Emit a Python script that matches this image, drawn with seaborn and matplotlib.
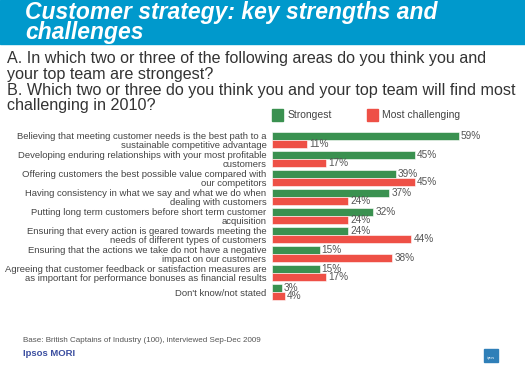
import matplotlib
matplotlib.use("Agg")
import matplotlib.pyplot as plt
import matplotlib.patches as mpatches
import seaborn as sns
import pandas as pd

# 数据
categories = [
    "Believing that meeting customer needs is the best path to a\nsustainable competitive advantage",
    "Developing enduring relationships with your most profitable\ncustomers",
    "Offering customers the best possible value compared with\nour competitors",
    "Having consistency in what we say and what we do when\ndealing with customers",
    "Putting long term customers before short term customer\nacquisition",
    "Ensuring that every action is geared towards meeting the\nneeds of different types of customers",
    "Ensuring that the actions we take do not have a negative\nimpact on our customers",
    "Agreeing that customer feedback or satisfaction measures are\nas important for performance bonuses as financial results",
    "Don't know/not stated",
]
strongest = [59, 45, 39, 37, 32, 24, 15, 15, 3]
challenging = [11, 17, 45, 24, 24, 44, 38, 17, 4]
series_names = ["Strongest", "Most challenging"]

df = pd.DataFrame({
    "category": categories * 2,
    "value": strongest + challenging,
    "series": [series_names[0]] * len(categories) + [series_names[1]] * len(categories),
})

GREEN = "#3a9150"
RED = "#ee5046"
TEXT = "#444444"

sns.set_theme(style="white")
plt.rcParams["font.family"] = ["Liberation Sans", "DejaVu Sans"]

fig = plt.figure(figsize=(5.25, 3.86), dpi=100)
fig.patch.set_facecolor("white")

# 标题横幅
fig.patches.append(mpatches.Rectangle((0, 1 - 44 / 386), 1, 44 / 386,
                                      transform=fig.transFigure, color="#0099cc", zorder=0))
fig.text(25 / 525, 1 - 12 / 386, "Customer strategy: key strengths and",
         color="white", fontsize=16.5, fontweight="bold", style="italic", va="center")
fig.text(25 / 525, 1 - 33 / 386, "challenges",
         color="white", fontsize=16.5, fontweight="bold", style="italic", va="center")

# 问题文字
questions = [
    "A. In which two or three of the following areas do you think you and",
    "your top team are strongest?",
    "B. Which two or three do you think you and your top team will find most",
    "challenging in 2010?",
]
for i, q in enumerate(questions):
    fig.text(7 / 525, 1 - (59 + i * 15.5) / 386, q, color="#333333",
             fontsize=11.6, va="center")

# 条形图
ax = fig.add_axes([272 / 525, 1 - 301.5 / 386, 228 / 525, 171 / 386])
sns.barplot(data=df, y="category", x="value", hue="series",
            palette=[GREEN, RED], saturation=1, orient="h", width=0.84,
            edgecolor="white", linewidth=0.4, ax=ax, legend=False)
ax.set_xlim(0, 72)
ax.set_ylim(8.5, -0.5)
ax.set_xlabel("")
ax.set_ylabel("")
ax.set_xticks([])
ax.tick_params(axis="y", length=0, pad=4)
ax.set_yticks(range(len(categories)))
ax.set_yticklabels(categories, fontsize=6.8, color=TEXT, ha="right", linespacing=0.95)
for s in ax.spines.values():
    s.set_visible(False)

for container in ax.containers:
    ax.bar_label(container, labels=[f"{int(v)}%" for v in container.datavalues],
                 padding=1.5, fontsize=7.2, color="#555555")

# 图例
handles = [mpatches.Patch(color=GREEN, label=series_names[0]),
           mpatches.Patch(color=RED, label=series_names[1])]
fig.legend(handles=handles, loc="center left", ncol=2, frameon=False,
           bbox_to_anchor=(263 / 525, 1 - 115 / 386), fontsize=7.5,
           handlelength=1.05, handleheight=1.3, handletextpad=0.4,
           columnspacing=3.4, labelcolor=TEXT)

# 脚注
fig.text(23 / 525, 1 - 341 / 386,
         "Base: British Captains of Industry (100), interviewed Sep-Dec 2009",
         fontsize=5.8, color="#555555", va="center")
fig.text(23 / 525, 1 - 353 / 386, "Ipsos MORI", fontsize=6.8,
         fontweight="bold", color="#3b4ea0", va="center")
fig.patches.append(mpatches.Rectangle((484 / 525, 1 - 362 / 386), 14 / 525, 13 / 386,
                                      transform=fig.transFigure, color="#2f7fb8"))
fig.text(491 / 525, 1 - 358 / 386, "ipsos", fontsize=2.5, color="white",
         ha="center", va="center")

fig.savefig("out.png", dpi=100)
